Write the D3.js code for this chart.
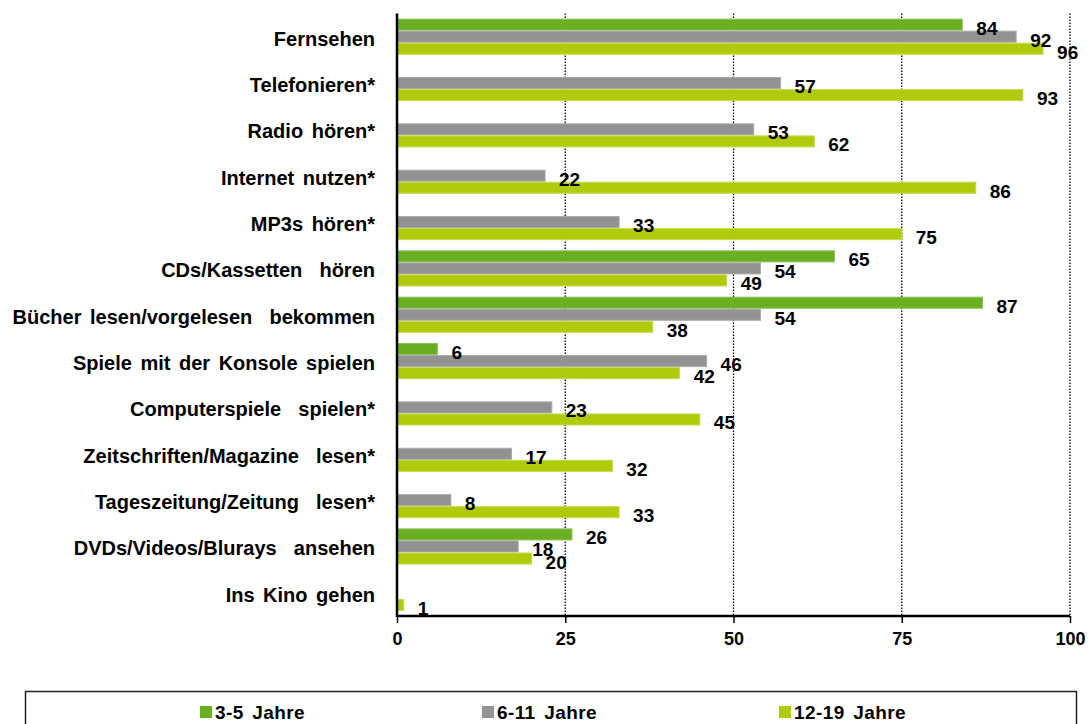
<!DOCTYPE html>
<html>
<head>
<meta charset="utf-8">
<script src="https://cdn.jsdelivr.net/npm/d3@7"></script>
<style>
  html, body { margin: 0; padding: 0; background: #fff; }
  svg { display: block; font-family: "Liberation Sans", Arial, sans-serif; font-weight: bold; }
  text { white-space: pre; }
</style>
</head>
<body>
<svg id="chart" width="1090" height="724"></svg>
<script>
// Activities and share per age group (values in %; null = not asked)
const categories = [
  "Fernsehen",
  "Telefonieren*",
  "Radio hören*",
  "Internet nutzen*",
  "MP3s hören*",
  "CDs/Kassetten  hören",
  "Bücher lesen/vorgelesen  bekommen",
  "Spiele mit der Konsole spielen",
  "Computerspiele  spielen*",
  "Zeitschriften/Magazine  lesen*",
  "Tageszeitung/Zeitung  lesen*",
  "DVDs/Videos/Blurays  ansehen",
  "Ins Kino gehen"
];
const seriesNames = ["3-5 Jahre", "6-11 Jahre", "12-19 Jahre"];
const kids3to5   = [84, null, null, null, null, 65, 87, 6, null, null, null, 26, null];
const kids6to11  = [92, 57, 53, 22, 33, 54, 54, 46, 23, 17, 8, 18, null];
const teens12to19 = [96, 93, 62, 86, 75, 49, 38, 42, 45, 32, 33, 20, 1];
const xTicks = [0, 25, 50, 75, 100];

const seriesValues = [kids3to5, kids6to11, teens12to19];
const colors = ["#6aaf23", "#929292", "#b0cb0c"];
const strokes = ["#8cc453", "#aaaaaa", "#c6db4a"];

const svg = d3.select("#chart");
const plotLeft = 397, plotRight = 1070, plotTop = 13.5, plotBottom = 616;

const x = d3.scaleLinear().domain([0, 100]).range([plotLeft, plotRight]);
const y = d3.scaleBand().domain(d3.range(categories.length)).range([plotTop, plotBottom])
  .paddingInner(0.22).paddingOuter(0.11);
const ySub = d3.scaleBand().domain(d3.range(seriesNames.length)).range([0, y.bandwidth()]);

// dotted vertical gridlines
svg.append("g").selectAll("line")
  .data(xTicks.filter(d => d > 0))
  .join("line")
  .attr("x1", d => x(d)).attr("x2", d => x(d))
  .attr("y1", plotTop).attr("y2", plotBottom)
  .attr("stroke", "#000").attr("stroke-width", 1.3)
  .attr("stroke-dasharray", "1.5,1.5");

// bars
const rows = [];
categories.forEach((c, i) => {
  seriesValues.forEach((vals, s) => {
    if (vals[i] !== null) rows.push({ i, s, v: vals[i] });
  });
});

svg.append("g").selectAll("rect")
  .data(rows)
  .join("rect")
  .attr("x", x(0))
  .attr("y", d => y(d.i) + ySub(d.s) + 0.5)
  .attr("width", d => x(d.v) - x(0))
  .attr("height", ySub.bandwidth() - 1)
  .attr("fill", d => colors[d.s])
  .attr("stroke", d => strokes[d.s])
  .attr("stroke-width", 1);

// value labels
svg.append("g").selectAll("text")
  .data(rows)
  .join("text")
  .attr("x", d => x(d.v) + 14)
  .attr("y", d => y(d.i) + ySub(d.s) + ySub.bandwidth() / 2 + 10)
  .attr("font-size", 19)
  .attr("fill", "#000")
  .text(d => d.v);

// category labels
svg.append("g").selectAll("text")
  .data(categories)
  .join("text")
  .attr("x", 375)
  .attr("y", (d, i) => y(i) + y.bandwidth() / 2 + 9)
  .attr("text-anchor", "end")
  .attr("font-size", 20)
  .attr("word-spacing", 3)
  .attr("fill", "#000")
  .text(d => d);

// axes
const xAxis = d3.axisBottom(x).tickValues(xTicks).tickSize(7).tickFormat(d3.format("d"));
const gx = svg.append("g").attr("transform", `translate(0,${plotBottom})`).call(xAxis);
gx.select(".domain").attr("stroke", "#000").attr("stroke-width", 2.5).attr("d", `M${plotLeft},0H${plotRight}`);
gx.selectAll(".tick line").attr("stroke", "#000").attr("stroke-width", 1.5);
gx.selectAll(".tick text")
  .attr("font-family", "Liberation Sans, Arial, sans-serif")
  .attr("font-weight", "bold")
  .attr("font-size", 18)
  .attr("fill", "#000")
  .attr("dy", "1.05em");

svg.append("line")
  .attr("x1", plotLeft).attr("x2", plotLeft)
  .attr("y1", plotTop).attr("y2", plotBottom + 1)
  .attr("stroke", "#000").attr("stroke-width", 2.5);

// legend
svg.append("rect")
  .attr("x", 25.5).attr("y", 691.5).attr("width", 1051).attr("height", 60)
  .attr("fill", "none").attr("stroke", "#222").attr("stroke-width", 1.5);

const legendX = [200, 482, 779];
const lg = svg.append("g").selectAll("g")
  .data(seriesNames)
  .join("g")
  .attr("transform", (d, i) => `translate(${legendX[i]},706)`);
lg.append("rect").attr("width", 12).attr("height", 12).attr("fill", (d, i) => colors[i]);
lg.append("text").attr("x", 15).attr("y", 12.5)
  .attr("font-size", 19).attr("word-spacing", 3).attr("letter-spacing", 0.4)
  .attr("fill", "#000").text(d => d);
</script>
</body>
</html>
